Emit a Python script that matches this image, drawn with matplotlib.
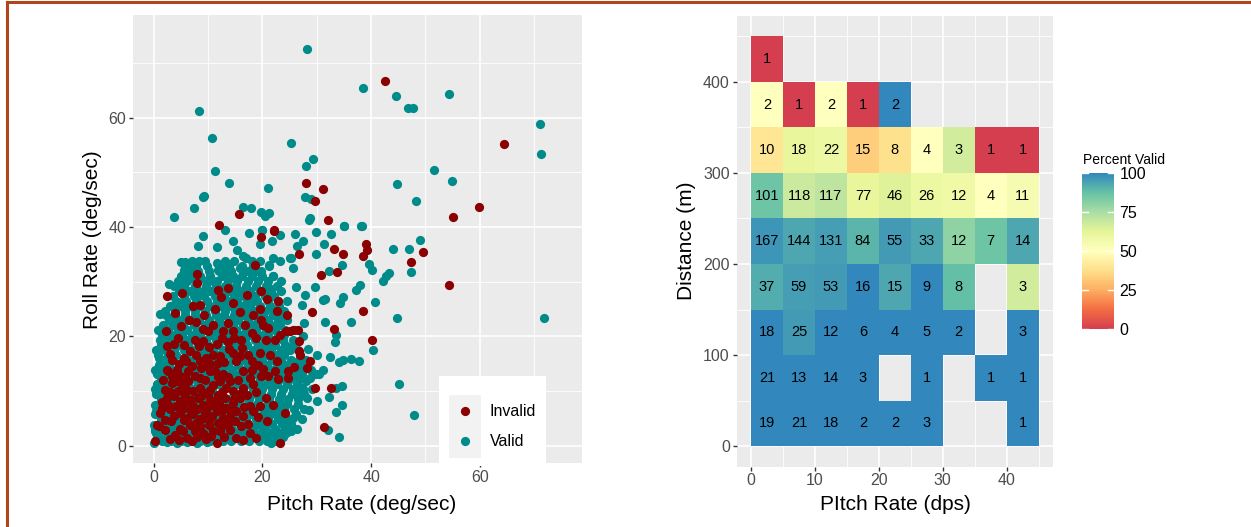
import numpy as np
import matplotlib
matplotlib.use("Agg")
import matplotlib.pyplot as plt
from matplotlib.colors import LinearSegmentedColormap
from matplotlib.patches import Rectangle
from matplotlib.lines import Line2D

plt.rcParams['font.family'] = ['Liberation Sans', 'DejaVu Sans']

# ---------------- scatter data (pitch rate, roll rate) ----------------
valid_xy = [
    # sparse points, upper part
    (28.2, 72.6), (8.3, 61.2), (10.8, 56.3), (25.3, 55.4), (29.3, 52.5), (28.0, 51.1), (11.3, 50.2),
    (13.8, 48.0), (21.0, 47.2), (9.0, 45.4), (9.3, 45.7), (7.5, 43.5), (3.7, 41.8), (16.5, 43.6),
    (17.9, 43.4), (19.8, 42.8), (20.5, 42.1), (21.2, 42.5), (27.9, 45.4), (29.0, 45.1), (28.5, 41.2),
    (28.7, 41.6), (35.0, 40.1), (13.1, 39.5), (19.9, 39.5),
    (38.5, 65.5), (44.6, 64.0), (46.7, 61.8), (47.8, 61.7), (54.3, 64.3), (71.0, 58.8), (71.2, 53.4),
    (51.5, 50.4), (54.9, 48.5), (44.8, 47.9), (48.2, 44.8), (38.2, 40.2), (71.9, 23.3),
    # right side of the cloud
    (49.0, 37.6), (47.0, 36.0), (44.1, 35.9), (47.4, 31.8), (39.6, 33.2), (40.2, 32.2), (42.1, 30.2),
    (42.7, 31.0), (43.3, 31.6), (37.3, 28.4), (37.9, 29.3), (40.7, 26.2), (44.8, 23.4), (40.4, 17.5),
    (45.1, 11.3), (47.9, 5.5), (36.3, 22.6), (34.8, 27.1), (34.2, 26.0), (31.6, 22.6), (34.6, 33.1),
    (29.9, 35.1), (31.3, 36.8), (32.7, 38.8), (29.8, 39.1), (26.0, 38.7), (35.1, 40.1), (38.3, 40.1),
    (27.4, 37.4), (26.4, 36.5), (32.3, 32.0), (29.6, 29.1), (31.1, 26.6), (31.6, 26.8), (27.9, 27.5),
    (33.5, 20.3), (33.4, 19.0), (34.8, 15.7), (34.1, 15.3), (36.3, 15.9), (37.7, 15.5), (32.4, 16.2),
    (30.0, 16.5), (34.6, 10.9), (33.5, 10.6), (32.3, 8.8), (34.6, 7.4), (33.5, 6.2), (34.1, 1.5),
    (32.0, 2.9), (30.0, 8.2), (28.5, 6.5), (25.6, 5.1), (24.7, 2.7), (25.3, 2.7), (28.2, 8.7),
    (29.9, 13.0), (30.5, 13.1), (31.1, 13.8), (28.0, 11.8), (27.1, 10.6), (26.5, 10.1), (28.7, 12.4),
    (27.4, 15.3), (28.0, 15.7), (28.4, 17.6), (27.4, 20.0), (27.6, 22.4), (27.3, 25.8), (25.3, 34.3),
    (25.0, 34.4), (25.6, 32.5), (26.2, 29.1),
    # edge of the dense cloud
    (9.1, 38.4), (8.2, 36.5), (11.6, 36.3), (14.6, 37.4), (15.4, 35.8), (16.5, 34.6), (17.0, 34.3),
    (17.5, 38.9), (20.0, 39.4), (19.5, 36.9), (21.8, 37.4), (23.2, 38.6), (5.1, 33.5), (5.8, 33.6),
    (6.4, 33.1), (5.5, 32.2), (7.0, 32.5), (8.4, 33.8), (11.6, 33.4), (12.3, 32.8), (12.8, 31.9),
    (11.9, 32.2), (14.0, 31.3), (15.9, 32.5), (16.5, 31.9), (6.8, 30.7), (10.1, 30.4), (11.0, 30.1),
    (2.9, 29.6), (4.9, 29.0), (21.3, 33.1), (22.0, 34.3), (23.2, 33.7), (19.7, 31.9), (22.0, 31.0),
    (23.5, 30.1), (21.3, 28.8), (1.2, 24.1), (3.7, 25.8), (4.6, 26.1), (5.5, 25.5), (8.8, 27.6),
    (9.8, 28.2), (14.0, 28.8), (14.6, 28.2), (16.5, 27.6), (12.5, 27.0), (13.4, 25.8), (18.3, 26.4),
    (17.7, 25.2), (3.0, 22.7), (4.0, 22.1), (1.2, 19.4), (2.1, 20.3), (0.9, 16.0), (1.2, 14.8),
    (0.6, 11.2), (0.9, 9.9), (0.3, 7.5), (0.5, 6.3), (0.0, 3.8), (0.3, 2.6), (0.6, 1.4), (0.0, 0.5),
    (2.4, 0.7), (4.3, 0.4), (6.1, 0.7), (7.9, 0.4), (9.8, 0.7), (14.6, 1.4), (16.5, 2.0), (18.3, 2.6),
    (21.3, 2.0), (21.6, 0.5), (20.7, 4.4), (19.5, 3.8), (22.6, 6.3), (23.5, 7.5), (22.0, 11.1),
    (23.2, 12.4),
    # inside the dense cloud
    (1.5, 0.8), (3.2, 0.8), (5.0, 0.8), (6.8, 0.8), (8.6, 0.8), (10.4, 0.8), (12.8, 0.8), (14.2, 0.8),
    (16.0, 0.8), (17.6, 0.8), (19.4, 0.8), (20.8, 0.8), (22.4, 0.8),
    (1.0, 1.5), (2.4, 1.5), (4.2, 1.5), (5.8, 1.5), (7.6, 1.5), (9.4, 1.5), (11.4, 1.5), (13.0, 1.5),
    (15.0, 1.5), (16.8, 1.5), (18.6, 1.5), (20.2, 1.5), (22.0, 1.5), (23.8, 1.5),
    (0.4, 2.2), (2.6, 2.2), (4.4, 2.2), (6.4, 2.2), (8.0, 2.2), (10.0, 2.2), (11.8, 2.2), (13.6, 2.2),
    (15.6, 2.2), (17.0, 2.2), (19.8, 2.2), (21.2, 2.2), (23.0, 2.2), (24.4, 2.2),
    (0.2, 3.1), (1.8, 3.1), (3.4, 3.1), (5.2, 3.1), (7.0, 3.1), (8.8, 3.1), (10.8, 3.1), (12.4, 3.1),
    (14.4, 3.1), (16.2, 3.1), (18.2, 3.1), (20.4, 3.1), (22.4, 3.1), (24.2, 3.1), (26.4, 3.1),
    (1.0, 4.0), (2.8, 4.0), (4.2, 4.0), (5.6, 4.0), (7.8, 4.0), (9.8, 4.0), (11.2, 4.0), (13.2, 4.0),
    (15.8, 4.0), (17.4, 4.0), (19.0, 4.0), (21.8, 4.0), (23.6, 4.0), (25.2, 4.0),
    (1.4, 4.9), (3.2, 4.9), (5.0, 4.9), (6.6, 4.9), (8.4, 4.9), (10.2, 4.9), (12.0, 4.9), (13.8, 4.9),
    (15.2, 4.9), (17.0, 4.9), (18.8, 4.9), (21.0, 4.9), (22.8, 4.9), (24.6, 4.9), (27.2, 4.9),
    (0.2, 5.8), (2.2, 5.8), (3.8, 5.8), (5.4, 5.8), (7.2, 5.8), (8.8, 5.8), (10.6, 5.8), (12.4, 5.8),
    (14.4, 5.8), (16.0, 5.8), (17.8, 5.8), (20.2, 5.8), (21.6, 5.8), (23.4, 5.8), (26.2, 5.8),
    (0.6, 6.7), (2.0, 6.7), (3.6, 6.7), (5.8, 6.7), (7.8, 6.7), (9.4, 6.7), (11.4, 6.7), (13.2, 6.7),
    (15.0, 6.7), (16.8, 6.7), (18.6, 6.7), (20.4, 6.7), (22.2, 6.7), (24.0, 6.7), (25.8, 6.7), (27.6, 6.7),
    (1.0, 7.6), (2.8, 7.6), (4.6, 7.6), (6.8, 7.6), (8.4, 7.6), (9.8, 7.6), (12.0, 7.6), (13.8, 7.6),
    (15.6, 7.6), (17.4, 7.6), (19.0, 7.6), (21.0, 7.6), (22.8, 7.6), (24.6, 7.6), (26.6, 7.6),
    (1.4, 8.5), (3.2, 8.5), (5.0, 8.5), (6.6, 8.5), (8.8, 8.5), (10.6, 8.5), (12.2, 8.5), (14.0, 8.5),
    (15.8, 8.5), (17.6, 8.5), (19.4, 8.5), (21.2, 8.5), (23.0, 8.5), (24.8, 8.5), (26.6, 8.5),
    (0.4, 9.4), (2.0, 9.4), (3.8, 9.4), (5.6, 9.4), (7.6, 9.4), (9.2, 9.4), (11.0, 9.4), (12.6, 9.4),
    (14.8, 9.4), (16.2, 9.4), (18.0, 9.4), (19.8, 9.4), (21.6, 9.4), (23.4, 9.4), (25.4, 9.4), (27.6, 9.4),
    (0.2, 10.3), (2.0, 10.3), (3.8, 10.3), (5.4, 10.3), (7.2, 10.3), (9.0, 10.3), (10.8, 10.3),
    (12.8, 10.3), (14.4, 10.3), (16.4, 10.3), (18.2, 10.3), (20.0, 10.3), (21.8, 10.3), (23.8, 10.3),
    (25.6, 10.3), (27.4, 10.3), (29.2, 10.3),
    (1.2, 11.2), (2.8, 11.2), (4.6, 11.2), (6.4, 11.2), (8.2, 11.2), (10.2, 11.2), (11.8, 11.2),
    (13.6, 11.2), (15.4, 11.2), (17.2, 11.2), (19.2, 11.2), (20.8, 11.2), (22.6, 11.2), (24.6, 11.2),
    (26.4, 11.2),
    (1.4, 12.1), (3.2, 12.1), (5.0, 12.1), (6.8, 12.1), (8.6, 12.1), (10.4, 12.1), (12.4, 12.1),
    (14.2, 12.1), (16.0, 12.1), (17.8, 12.1), (19.6, 12.1), (21.4, 12.1), (23.2, 12.1), (25.0, 12.1),
    (26.8, 12.1),
    (0.6, 13.0), (2.2, 13.0), (4.0, 13.0), (5.8, 13.0), (7.4, 13.0), (9.4, 13.0), (11.4, 13.0),
    (13.2, 13.0), (15.0, 13.0), (16.8, 13.0), (18.4, 13.0), (20.2, 13.0), (22.0, 13.0), (23.8, 13.0),
    (25.8, 13.0), (27.2, 13.0),
    (0.2, 13.9), (1.8, 13.9), (3.6, 13.9), (5.2, 13.9), (7.0, 13.9), (8.8, 13.9), (10.6, 13.9),
    (12.6, 13.9), (14.4, 13.9), (16.2, 13.9), (18.0, 13.9), (19.8, 13.9), (21.6, 13.9), (23.4, 13.9),
    (25.2, 13.9), (27.0, 13.9), (29.0, 13.9),
    (1.0, 14.8), (2.8, 14.8), (4.6, 14.8), (6.2, 14.8), (8.0, 14.8), (9.8, 14.8), (11.6, 14.8),
    (13.6, 14.8), (15.6, 14.8), (17.4, 14.8), (19.2, 14.8), (20.8, 14.8), (22.6, 14.8), (24.2, 14.8),
    (26.2, 14.8),
    (1.8, 15.7), (3.6, 15.7), (5.4, 15.7), (7.2, 15.7), (9.0, 15.7), (10.8, 15.7), (12.6, 15.7),
    (14.6, 15.7), (16.4, 15.7), (18.2, 15.7), (20.0, 15.7), (21.8, 15.7), (23.4, 15.7), (25.2, 15.7),
    (26.8, 15.7),
    (0.8, 16.6), (2.6, 16.6), (4.2, 16.6), (6.0, 16.6), (8.2, 16.6), (9.8, 16.6), (11.8, 16.6),
    (13.4, 16.6), (15.6, 16.6), (17.2, 16.6), (19.0, 16.6), (20.6, 16.6), (22.6, 16.6), (24.0, 16.6),
    (0.4, 17.5), (2.0, 17.5), (3.8, 17.5), (5.6, 17.5), (7.4, 17.5), (9.2, 17.5), (11.0, 17.5),
    (12.8, 17.5), (14.6, 17.5), (16.4, 17.5), (18.2, 17.5), (20.0, 17.5), (21.6, 17.5), (23.4, 17.5),
    (25.0, 17.5), (26.6, 17.5),
    (1.4, 18.4), (3.0, 18.4), (4.8, 18.4), (6.4, 18.4), (8.2, 18.4), (10.0, 18.4), (11.8, 18.4),
    (13.8, 18.4), (15.4, 18.4), (17.2, 18.4), (19.2, 18.4), (20.8, 18.4), (22.4, 18.4), (24.2, 18.4),
    (25.6, 18.4),
    (2.4, 19.3), (4.2, 19.3), (6.0, 19.3), (7.8, 19.3), (9.6, 19.3), (11.4, 19.3), (13.2, 19.3),
    (15.0, 19.3), (16.8, 19.3), (18.6, 19.3), (20.4, 19.3), (22.2, 19.3), (23.8, 19.3), (25.6, 19.3),
    (1.6, 20.2), (3.4, 20.2), (5.2, 20.2), (7.0, 20.2), (8.6, 20.2), (10.6, 20.2), (12.2, 20.2),
    (14.0, 20.2), (16.0, 20.2), (17.6, 20.2), (19.4, 20.2), (21.0, 20.2), (22.8, 20.2), (24.0, 20.2),
    (0.8, 21.1), (2.6, 21.1), (4.4, 21.1), (6.2, 21.1), (8.0, 21.1), (9.8, 21.1), (11.6, 21.1),
    (13.4, 21.1), (15.2, 21.1), (17.0, 21.1), (18.8, 21.1), (20.6, 21.1), (22.4, 21.1), (24.2, 21.1),
    (26.0, 21.1),
    (1.8, 22.0), (3.6, 22.0), (5.4, 22.0), (7.4, 22.0), (9.4, 22.0), (11.2, 22.0), (13.0, 22.0),
    (14.6, 22.0), (16.4, 22.0), (18.2, 22.0), (19.8, 22.0), (21.6, 22.0), (23.2, 22.0),
    (2.8, 22.9), (4.6, 22.9), (6.4, 22.9), (8.4, 22.9), (10.2, 22.9), (12.0, 22.9), (13.8, 22.9),
    (15.6, 22.9), (17.4, 22.9), (19.2, 22.9), (21.0, 22.9), (22.8, 22.9), (24.6, 22.9),
    (2.2, 23.8), (4.0, 23.8), (5.8, 23.8), (7.6, 23.8), (9.6, 23.8), (11.4, 23.8), (13.0, 23.8),
    (14.8, 23.8), (16.6, 23.8), (18.4, 23.8), (20.2, 23.8), (22.0, 23.8), (23.4, 23.8),
    (2.0, 24.7), (4.0, 24.7), (5.8, 24.7), (7.6, 24.7), (9.4, 24.7), (11.2, 24.7), (13.2, 24.7),
    (15.0, 24.7), (16.8, 24.7), (18.6, 24.7), (20.4, 24.7), (22.2, 24.7), (24.0, 24.7),
    (3.0, 25.6), (5.0, 25.6), (6.8, 25.6), (8.6, 25.6), (10.4, 25.6), (12.2, 25.6), (14.2, 25.6),
    (16.0, 25.6), (17.8, 25.6), (19.6, 25.6), (21.4, 25.6), (23.0, 25.6),
    (4.2, 26.5), (6.0, 26.5), (7.8, 26.5), (9.8, 26.5), (11.6, 26.5), (13.6, 26.5), (15.4, 26.5),
    (17.2, 26.5), (19.0, 26.5), (21.0, 26.5), (22.8, 26.5), (24.6, 26.5),
    (3.6, 27.4), (5.6, 27.4), (7.4, 27.4), (9.2, 27.4), (11.2, 27.4), (13.0, 27.4), (14.8, 27.4),
    (16.6, 27.4), (18.6, 27.4), (20.4, 27.4), (22.2, 27.4),
    (4.6, 28.3), (6.6, 28.3), (8.4, 28.3), (10.4, 28.3), (12.2, 28.3), (14.0, 28.3), (15.8, 28.3),
    (17.8, 28.3), (19.6, 28.3), (21.6, 28.3), (23.4, 28.3),
    (3.8, 29.2), (5.6, 29.2), (7.6, 29.2), (9.6, 29.2), (11.4, 29.2), (13.2, 29.2), (15.2, 29.2),
    (17.0, 29.2), (18.8, 29.2), (20.6, 29.2), (22.6, 29.2),
    (4.4, 30.1), (6.2, 30.1), (8.0, 30.1), (9.6, 30.1), (11.6, 30.1), (13.6, 30.1), (15.4, 30.1),
    (17.4, 30.1), (19.2, 30.1), (21.0, 30.1),
    (5.0, 31.0), (6.6, 31.0), (8.6, 31.0), (10.4, 31.0), (12.6, 31.0), (14.6, 31.0), (16.2, 31.0),
    (18.0, 31.0), (20.0, 31.0), (22.0, 31.0),
    (6.2, 31.9), (8.2, 31.9), (10.2, 31.9), (12.0, 31.9), (14.2, 31.9), (17.4, 31.9), (19.0, 31.9),
    (5.8, 32.8), (7.8, 32.8), (9.8, 32.8), (12.0, 32.8), (13.8, 32.8), (16.2, 32.8), (18.2, 32.8),
    (21.2, 32.8),
    (7.0, 33.7), (9.4, 33.7), (13.2, 33.7), (14.8, 33.7), (18.0, 33.7), (19.6, 33.7),
]

invalid_xy = [
    (28.1, 48.0), (31.1, 47.0), (29.6, 44.8), (32.1, 41.2), (15.7, 42.3), (12.1, 40.4), (22.1, 39.5),
    (42.6, 66.7), (64.4, 55.1), (59.9, 43.7), (55.0, 41.8), (54.4, 29.3),
    (49.6, 35.5), (47.4, 33.6), (39.1, 36.8), (39.3, 35.7), (38.6, 34.7), (38.6, 24.6), (40.2, 19.4),
    (33.1, 36.0), (34.9, 35.0), (26.8, 35.1), (30.7, 31.3), (33.8, 31.7), (29.1, 24.5), (33.2, 21.4),
    (32.7, 10.6), (29.6, 10.6), (31.3, 3.4), (24.5, 23.8), (26.7, 19.2), (26.8, 17.3), (26.9, 16.6),
    (28.8, 15.4), (28.2, 14.2), (25.9, 14.3), (24.7, 13.6), (24.7, 12.4), (24.1, 6.0), (25.6, 21.2),
    (26.5, 21.2), (24.4, 20.9), (25.1, 20.9),
    (19.7, 38.1), (22.1, 39.2), (18.7, 33.1), (7.9, 31.4), (8.0, 29.7), (5.2, 27.9), (2.4, 27.3),
    (11.9, 28.5), (12.3, 27.1), (13.7, 28.8), (17.1, 27.5), (19.8, 28.3), (7.3, 25.5), (9.3, 23.9),
    (15.8, 24.4), (18.3, 23.9), (19.5, 24.9), (22.9, 26.4), (22.6, 24.6), (6.5, 23.0), (11.0, 22.1),
    (12.8, 20.9), (12.5, 19.7), (2.3, 20.9), (9.1, 21.4), (14.6, 20.9), (14.8, 19.7), (18.0, 20.6),
    (18.9, 19.7), (19.8, 23.0), (20.1, 22.1), (22.3, 19.4), (23.2, 20.3), (2.4, 18.2), (3.7, 18.6),
    (9.1, 19.1), (10.1, 18.0), (6.7, 17.3), (11.0, 16.6), (12.2, 16.3), (11.9, 15.1), (14.6, 16.9),
    (15.9, 16.3), (15.2, 15.4), (17.4, 16.6), (18.0, 15.4), (3.4, 15.7), (2.4, 13.9), (2.7, 13.6),
    (5.5, 16.0), (4.3, 13.9), (4.9, 12.7), (7.0, 14.5), (8.5, 15.4), (8.8, 14.2), (7.6, 12.7),
    (8.5, 12.4), (10.4, 13.6), (11.3, 13.6), (12.8, 13.0), (12.2, 11.8), (14.0, 11.8), (13.4, 10.5),
    (14.6, 9.9), (16.5, 10.5), (17.7, 12.4), (18.3, 11.2), (19.2, 14.8), (19.8, 12.7), (21.0, 12.7),
    (22.6, 15.4), (22.3, 13.6), (22.9, 12.1), (3.4, 11.4), (4.3, 11.8), (5.2, 11.2), (6.4, 11.8),
    (6.1, 10.2), (7.3, 9.9), (8.5, 10.5), (9.5, 9.6), (10.4, 10.2), (11.0, 11.1), (11.9, 9.3),
    (13.1, 8.7), (2.4, 8.7), (3.7, 9.0), (4.9, 8.1), (2.7, 7.5), (1.5, 6.9), (1.2, 6.0), (6.1, 8.1),
    (7.3, 7.2), (8.2, 8.7), (9.1, 7.5), (10.4, 8.4), (11.3, 7.2), (12.2, 7.5), (13.4, 6.9), (14.6, 7.8),
    (15.9, 8.7), (17.1, 9.3), (17.7, 7.2), (19.5, 7.2), (20.7, 8.7), (22.0, 7.5), (15.2, 6.3),
    (16.5, 5.4), (18.3, 6.3), (19.2, 5.2), (20.9, 4.4), (3.7, 5.4), (4.9, 6.0), (6.1, 5.1), (7.3, 5.7),
    (8.5, 4.8), (9.5, 6.0), (10.7, 5.4), (11.6, 6.3), (12.8, 5.1), (14.0, 5.4), (14.9, 4.4), (0.6, 3.8),
    (0.9, 3.5), (2.1, 2.9), (4.0, 2.0), (4.9, 3.1), (6.1, 1.4), (6.7, 3.8), (7.6, 2.6), (8.5, 3.5),
    (9.1, 2.3), (10.1, 3.8), (11.0, 2.6), (12.2, 2.6), (12.8, 3.8), (15.2, 1.4), (17.7, 2.3), (18.9, 1.4),
    (0.3, 0.8), (11.6, 0.5), (23.2, 0.5),
    # more of the red core
    (3.0, 1.2), (4.6, 1.0), (5.4, 2.6), (7.0, 0.9), (8.0, 1.6), (9.6, 1.2), (10.6, 1.8), (13.0, 1.6),
    (14.0, 2.8), (16.4, 1.0), (2.0, 4.6), (3.2, 4.4), (5.6, 4.6), (7.8, 4.2), (9.0, 5.0), (10.2, 4.6),
    (11.8, 4.2), (13.6, 4.0), (16.0, 3.6), (17.4, 4.0), (1.6, 8.0), (3.0, 6.6), (4.2, 7.2), (5.6, 6.8),
    (6.8, 6.4), (8.0, 6.6), (9.8, 6.8), (10.8, 7.6), (12.6, 6.4), (14.2, 6.4), (16.6, 7.0), (2.0, 10.2),
    (3.0, 9.8), (4.4, 10.0), (5.8, 9.2), (6.8, 8.4), (8.8, 9.0), (10.0, 9.4), (11.4, 8.4), (12.6, 9.8),
    (14.8, 8.6), (16.0, 9.6), (18.8, 9.8), (1.8, 12.0), (3.4, 12.8), (5.8, 12.6), (6.4, 13.6),
    (9.4, 12.0), (9.8, 14.6), (11.8, 12.6), (13.6, 12.6), (15.6, 12.0), (16.4, 13.6), (18.0, 13.8),
    (20.2, 14.0), (3.0, 16.8), (4.6, 15.0), (6.0, 15.4), (7.8, 16.6), (9.6, 16.0), (10.4, 15.0),
    (13.0, 15.2), (13.8, 17.6), (16.2, 17.8), (19.6, 17.0), (21.4, 16.6), (4.4, 19.6), (5.6, 18.4),
    (7.6, 19.4), (8.4, 18.2), (11.6, 18.6), (13.6, 19.0), (16.0, 19.4), (20.6, 19.4), (5.0, 21.8),
    (7.8, 22.6), (10.0, 21.0), (13.6, 22.4), (16.8, 22.0), (21.0, 21.6), (8.6, 25.8), (11.2, 25.0),
    (14.6, 26.0), (20.8, 26.8), (4.0, 24.2),
]

# ---------------- heat map data ----------------
pitch_bins = [0, 5, 10, 15, 20, 25, 30, 35, 40, 45]
dist_bins = [0, 50, 100, 150, 200, 250, 300, 350, 400, 450]
N = None
# rows from 0-50 m upward, columns from 0-5 dps
counts = [
    [19, 21, 18, 2, 2, 3, N, N, 1],
    [21, 13, 14, 3, N, 1, N, 1, 1],
    [18, 25, 12, 6, 4, 5, 2, N, 3],
    [37, 59, 53, 16, 15, 9, 8, N, 3],
    [167, 144, 131, 84, 55, 33, 12, 7, 14],
    [101, 118, 117, 77, 46, 26, 12, 4, 11],
    [10, 18, 22, 15, 8, 4, 3, 1, 1],
    [2, 1, 2, 1, 2, N, N, N, N],
    [1, N, N, N, N, N, N, N, N],
]
pct_valid = [
    [100, 100, 100, 100, 100, 100, N, N, 100],
    [100, 100, 100, 100, N, 100, N, 100, 100],
    [100, 96, 100, 100, 100, 100, 100, N, 100],
    [92, 95, 96, 100, 93, 100, 88, N, 67],
    [97, 93, 95, 90, 96, 93, 80, 86, 93],
    [86, 68, 71, 61, 64, 59, 58, 50, 55],
    [40, 61, 59, 33, 38, 50, 67, 0, 0],
    [50, 0, 50, 0, 100, N, N, N, N],
    [0, N, N, N, N, N, N, N, N],
]

spectral = ['#D53E4F', '#F46D43', '#FDAE61', '#FEE08B', '#FFFFBF',
            '#E6F598', '#ABDDA4', '#66C2A5', '#3288BD']
cmap = LinearSegmentedColormap.from_list('spec', spectral)

W, H = 1251, 527
fig = plt.figure(figsize=(W / 100, H / 100), dpi=100)

grey_bg = '#EBEBEB'
tick_col = '#4D4D4D'

def style(ax):
    ax.set_facecolor(grey_bg)
    for s in ax.spines.values():
        s.set_visible(False)
    ax.set_axisbelow(True)
    ax.grid(which='major', color='white', lw=1.2)
    ax.grid(which='minor', color='white', lw=0.6)
    ax.tick_params(which='major', length=3, width=1, color='#333333', labelcolor=tick_col,
                   labelsize=11.5, pad=2)
    ax.tick_params(which='minor', length=0)

# ---------------- left: scatter ----------------
ax1 = fig.add_axes([133 / W, 1 - 463 / H, 449 / W, 448 / H])
style(ax1)
v = np.array(valid_xy)
iv = np.array(invalid_xy)
ax1.scatter(v[:, 0], v[:, 1], s=44, color='#008B8B', linewidths=0, zorder=3)
ax1.scatter(iv[:, 0], iv[:, 1], s=44, color='#8B0000', linewidths=0, zorder=4)
ax1.set_xlim(-3.8, 78.8)
ax1.set_ylim(-3.2, 78.8)
ax1.set_xticks([0, 20, 40, 60])
ax1.set_xticks([10, 30, 50, 70], minor=True)
ax1.set_yticks([0, 20, 40, 60])
ax1.set_yticks([10, 30, 50, 70], minor=True)

# legend drawn like ggplot's inside legend
ax1.add_patch(Rectangle((0.681, -0.007), 0.238, 0.201, transform=ax1.transAxes,
                        facecolor='white', edgecolor='none', zorder=5, clip_on=False))
ax1.add_patch(Rectangle((0.704, 0.012), 0.071, 0.140, transform=ax1.transAxes,
                        facecolor='#F2F2F2', edgecolor='none', zorder=6, clip_on=False))
ax1.scatter([0.739], [0.116], s=44, color='#8B0000', linewidths=0, transform=ax1.transAxes,
            zorder=7, clip_on=False)
ax1.scatter([0.739], [0.048], s=44, color='#008B8B', linewidths=0, transform=ax1.transAxes,
            zorder=7, clip_on=False)
ax1.text(0.795, 0.116, 'Invalid', transform=ax1.transAxes, fontsize=11.5, va='center', zorder=7)
ax1.text(0.795, 0.048, 'Valid', transform=ax1.transAxes, fontsize=11.5, va='center', zorder=7)

fig.text(362 / W, 1 - 504 / H, 'Pitch Rate (deg/sec)', ha='center', va='center', fontsize=15)
fig.text(92 / W, 1 - 240 / H, 'Roll Rate (deg/sec)', ha='center', va='center', fontsize=15,
         rotation=90)

# ---------------- right: heat map ----------------
ax2 = fig.add_axes([736.7 / W, 1 - 466.5 / H, (1053 - 736.7) / W, (466.5 - 16) / H])
style(ax2)
pv = np.ma.masked_invalid(np.array(pct_valid, dtype=float))
mesh = ax2.pcolormesh(pitch_bins, dist_bins, pv, cmap=cmap, vmin=0, vmax=100, zorder=2)
for i in range(len(counts)):
    for j in range(len(counts[i])):
        c = counts[i][j]
        if c is None:
            continue
        xc = (pitch_bins[j] + pitch_bins[j + 1]) / 2
        yc = (dist_bins[i] + dist_bins[i + 1]) / 2
        ax2.text(xc, yc, str(c), ha='center', va='center', fontsize=10.5, color='black', zorder=3)
ax2.set_xlim(-2.25, 47.25)
ax2.set_ylim(-22.5, 472.5)
ax2.set_xticks([0, 10, 20, 30, 40])
ax2.set_xticks([5, 15, 25, 35, 45], minor=True)
ax2.set_yticks([0, 100, 200, 300, 400])
ax2.set_yticks([50, 150, 250, 350, 450], minor=True)

fig.text(895 / W, 1 - 504 / H, 'PItch Rate (dps)', ha='center', va='center', fontsize=15)
fig.text(686 / W, 1 - 241 / H, 'Distance (m)', ha='center', va='center', fontsize=15,
         rotation=90)

# colour bar
cax = fig.add_axes([1082 / W, 1 - 329 / H, 32 / W, 156 / H])
cb = fig.colorbar(mesh, cax=cax, ticks=[0, 25, 50, 75, 100])
cb.outline.set_visible(False)
cax.tick_params(length=0, labelsize=11.5, labelcolor='black', pad=4)
for t in [0, 25, 50, 75, 100]:
    cax.plot([0, 0.2], [t, t], color='white', lw=1, transform=cax.get_yaxis_transform())
    cax.plot([0.8, 1], [t, t], color='white', lw=1, transform=cax.get_yaxis_transform())
fig.text(1083 / W, 1 - 160 / H, 'Percent Valid', ha='left', va='center', fontsize=10)

# frame lines on the left and top
border = '#B0441C'
fig.add_artist(Line2D([6.5 / W, 6.5 / W], [0, 1 - 2 / H], color=border, lw=2.2))
fig.add_artist(Line2D([6.5 / W, 1], [1 - 2 / H, 1 - 2 / H], color=border, lw=2.2))

fig.savefig('out.png', dpi=100)
